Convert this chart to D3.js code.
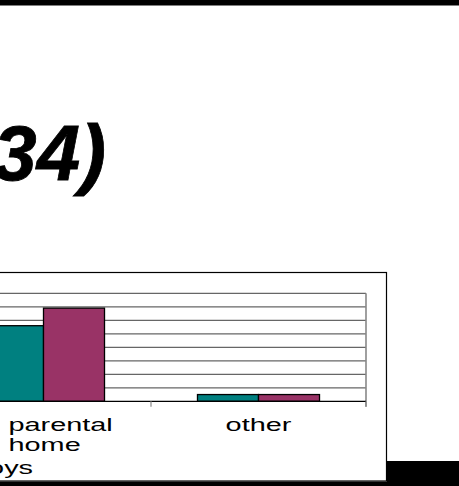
<!DOCTYPE html>
<html>
<head>
<meta charset="utf-8">
<script src="https://cdn.jsdelivr.net/npm/d3@7"></script>
<style>
  html, body { margin: 0; padding: 0; background: #fff; }
  svg { display: block; }
  text { font-family: "Liberation Sans", Arial, sans-serif; }
</style>
</head>
<body>
<div id="graph"></div>
<script>
// Data
const categories = ['parental home', 'other'];
const seriesNames = ['boys', 'girls'];
const boysValues = [56, 5];
const girlsValues = [69, 5];
const yTicks = [0, 10, 20, 30, 40, 50, 60, 70, 80];
const titleText = '34)';

const colors = { boys: '#008080', girls: '#993366' };

const width = 459;
const height = 486;

const svg = d3.select('#graph').append('svg')
    .attr('width', width)
    .attr('height', height);

// slide decorations: black band on top, black strip at bottom right
svg.append('rect').attr('x', 0).attr('y', 0).attr('width', width).attr('height', 5.5).attr('fill', '#000');
svg.append('rect').attr('x', 0).attr('y', 481.5).attr('width', width).attr('height', 5).attr('fill', '#000');
svg.append('rect').attr('x', 387).attr('y', 461).attr('width', 72).attr('height', 25).attr('fill', '#000');

// title (only its end is on the page)
svg.append('text')
    .attr('x', 106)
    .attr('y', 180)
    .attr('text-anchor', 'end')
    .attr('font-size', 78)
    .attr('font-weight', 'bold')
    .attr('font-style', 'italic')
    .attr('fill', '#000')
    .attr('stroke', '#000')
    .attr('stroke-width', 0.8)
    .text(titleText);

// chart box
svg.append('rect')
    .attr('x', -10).attr('y', 272.5)
    .attr('width', 396.5).attr('height', 208.5)
    .attr('fill', '#fff')
    .attr('stroke', '#000')
    .attr('stroke-width', 1.2);

// scales
const plotRight = 366;
const x = d3.scaleBand()
    .domain(categories)
    .range([plotRight - 2 * 215, plotRight])
    .paddingInner(0)
    .paddingOuter(0);

const xSub = d3.scaleBand()
    .domain(seriesNames)
    .range([0, x.bandwidth()])
    .paddingInner(0)
    .paddingOuter(0.762);

const y = d3.scaleLinear()
    .domain([0, 80])
    .range([401.3, 293.3]);

// gridlines
svg.append('g')
    .selectAll('line')
    .data(yTicks.slice(1))
    .enter().append('line')
    .attr('x1', -10).attr('x2', plotRight)
    .attr('y1', d => y(d)).attr('y2', d => y(d))
    .attr('stroke', '#666')
    .attr('stroke-width', 1.2);

// plot right edge
svg.append('line')
    .attr('x1', plotRight).attr('x2', plotRight)
    .attr('y1', y(80)).attr('y2', y(0) + 5.5)
    .attr('stroke', '#888')
    .attr('stroke-width', 1.6);

// bars
const rows = categories.map((c, i) => ({ cat: c, boys: boysValues[i], girls: girlsValues[i] }));
const groups = svg.append('g')
    .selectAll('g')
    .data(rows)
    .enter().append('g')
    .attr('transform', d => `translate(${x(d.cat)},0)`);

groups.selectAll('rect')
    .data(d => seriesNames.map(s => ({ s, v: d[s] })))
    .enter().append('rect')
    .attr('x', d => xSub(d.s))
    .attr('y', d => y(d.v))
    .attr('width', xSub.bandwidth())
    .attr('height', d => y(0) - y(d.v))
    .attr('fill', d => colors[d.s])
    .attr('stroke', '#000')
    .attr('stroke-width', 1.3);

// x axis baseline and category-boundary ticks
svg.append('line')
    .attr('x1', -10).attr('x2', plotRight)
    .attr('y1', y(0)).attr('y2', y(0))
    .attr('stroke', '#000')
    .attr('stroke-width', 1.2);

svg.append('g')
    .selectAll('line')
    .data(categories)
    .enter().append('line')
    .attr('x1', d => x(d) + x.bandwidth()).attr('x2', d => x(d) + x.bandwidth())
    .attr('y1', y(0)).attr('y2', y(0) + 5.5)
    .attr('stroke', '#888')
    .attr('stroke-width', 1.2);

// category labels (stretched wide like the original)
const stretch = 1.65;
categories.forEach(c => {
    const words = c.split(' ');
    const cx = x(c) + x.bandwidth() / 2;
    const multi = words.length > 1;
    words.forEach((w, j) => {
        svg.append('text')
            .attr('transform', `translate(${multi ? cx - 35 : cx},${431 + j * 19.5}) scale(${stretch},1)`)
            .attr('text-anchor', multi ? 'start' : 'middle')
            .attr('font-size', 17.5)
            .attr('fill', '#000')
            .text(w);
    });
});

// legend entry (cut off at the left edge)
svg.append('text')
    .attr('transform', `translate(33,474) scale(${stretch},1)`)
    .attr('text-anchor', 'end')
    .attr('font-size', 17.5)
    .attr('fill', '#000')
    .text(seriesNames[0]);
</script>
</body>
</html>
